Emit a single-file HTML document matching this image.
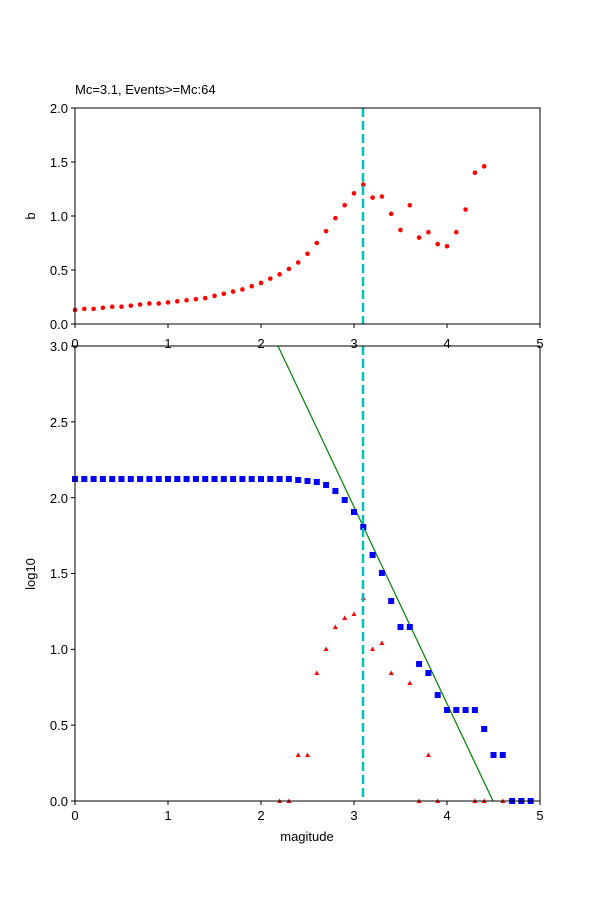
<!DOCTYPE html>
<html><head><style>body{margin:0;background:#fff}svg{display:block;font-family:"Liberation Sans","DejaVu Sans",sans-serif}</style></head><body>
<svg width="600" height="900" xmlns="http://www.w3.org/2000/svg">
<defs>
<clipPath id="c2"><rect x="75" y="346" width="465" height="455"/></clipPath>
</defs>
<text x="75" y="94" font-size="13">Mc=3.1, Events&gt;=Mc:64</text>
<g fill="red" id="top"></g>
<line x1="363" y1="108" x2="363" y2="324" stroke="#00bfbf" stroke-width="2.5" stroke-dasharray="9,4"/>
<rect x="75" y="108" width="465" height="216" fill="none" stroke="#000" stroke-width="1"/>
<g font-size="13" text-anchor="end">
<text x="68" y="329">0.0</text><text x="68" y="275">0.5</text><text x="68" y="221">1.0</text><text x="68" y="167">1.5</text><text x="68" y="113">2.0</text>
</g>
<text transform="translate(35,216) rotate(-90)" font-size="13" text-anchor="middle">b</text>
<g clip-path="url(#c2)">
<line x1="278" y1="346" x2="493" y2="801" stroke="green" stroke-width="1.2"/>
</g>
<g fill="blue" id="bl"></g><g fill="red" id="tr"></g>
<line x1="363" y1="346" x2="363" y2="801" stroke="#00bfbf" stroke-width="2.5" stroke-dasharray="9,4"/>
<rect x="75" y="346" width="465" height="455" fill="none" stroke="#000" stroke-width="1"/>
<g font-size="13" text-anchor="end">
<text x="68" y="806">0.0</text><text x="68" y="730">0.5</text><text x="68" y="654">1.0</text><text x="68" y="578">1.5</text><text x="68" y="503">2.0</text><text x="68" y="427">2.5</text><text x="68" y="351">3.0</text>
</g>
<text transform="translate(35,574) rotate(-90)" font-size="13" text-anchor="middle">log10</text>
<g font-size="13" text-anchor="middle" id="xl"></g>
<text x="307" y="841" font-size="13" text-anchor="middle">magitude</text>
<g stroke="#000" id="tk"></g>
</svg>
<script>
var NS="http://www.w3.org/2000/svg";
function el(p,t,a){var e=document.createElementNS(NS,t);for(var k in a)e.setAttribute(k,a[k]);document.getElementById(p).appendChild(e);return e;}
var b=[.13,.14,.14,.15,.16,.16,.17,.18,.19,.19,.2,.21,.22,.23,.24,.26,.28,.3,.32,.35,.38,.42,.46,.51,.57,.65,.75,.86,.98,1.1,1.21,1.29,1.17,1.18,1.02,.87,1.1,.8,.85,.74,.72,.85,1.06,1.4,1.46];
b.forEach(function(v,i){el("top","circle",{cx:75+9.3*i,cy:324-108*v,r:2.3});});
var bl=[];for(var i=0;i<24;i++)bl.push(479);
bl=bl.concat([480,481,482,485,491,500,512,527,555,573,601,627,627,664,673,695,710,710,710,710,729,755,755,801,801,801]);
bl.forEach(function(y,i){el("bl","rect",{x:75+9.3*i-3,y:y-3,width:6,height:6});});
var tr=[[2.2,801],[2.3,801],[2.4,755],[2.5,755],[2.6,673],[2.7,649],[2.8,627],[2.9,618],[3.0,614],[3.1,598],[3.2,649],[3.3,643],[3.4,673],[3.6,683],[3.7,801],[3.8,755],[3.9,801],[4.3,801],[4.4,801],[4.6,801]];
tr.forEach(function(p){var x=75+93*p[0],y=p[1];el("tr","polygon",{points:(x-2.5)+","+(y+2)+" "+(x+2.5)+","+(y+2)+" "+x+","+(y-2.5)});});
for(var k=0;k<=5;k++){var x=75+93*k;
el("xl","text",{x:x,y:348}).textContent=k;
el("xl","text",{x:x,y:820}).textContent=k;
el("tk","line",{x1:x,y1:324,x2:x,y2:328});el("tk","line",{x1:x,y1:801,x2:x,y2:805});}
[324,270,216,162,108].forEach(function(y){el("tk","line",{x1:71,y1:y,x2:75,y2:y});});
for(var j=0;j<=6;j++){var y=801-75.83*j;el("tk","line",{x1:71,y1:y,x2:75,y2:y});}
</script>
</body></html>
